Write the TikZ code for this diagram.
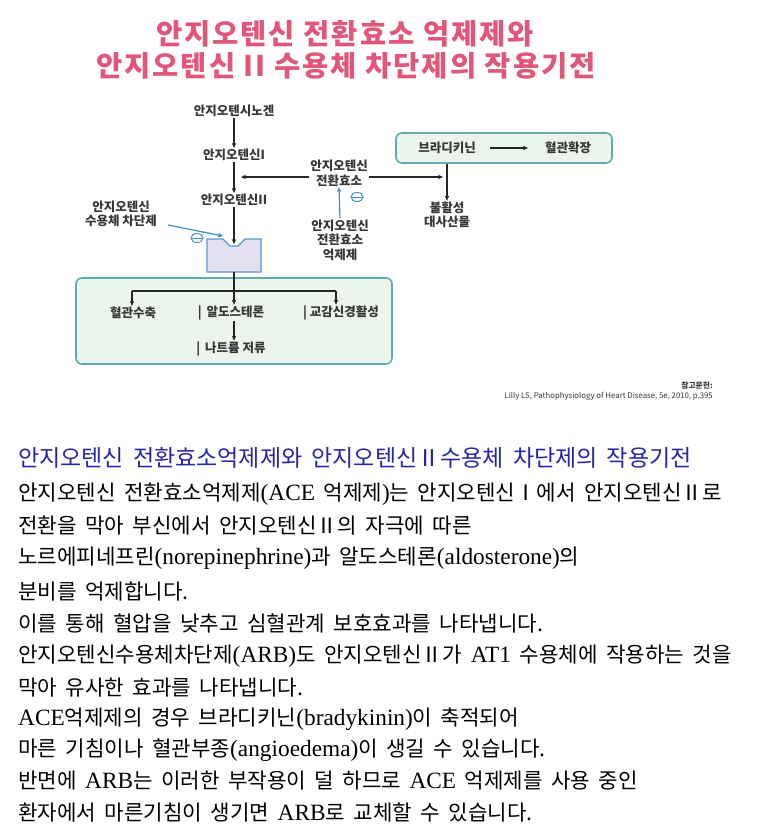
\documentclass[tikz,border=0pt]{standalone}
\usepackage{fontspec}
\newfontfamily\kr{Noto Sans CJK KR}
\newfontfamily\lt[Scale=1.1]{Liberation Serif}
\usepackage{xcolor}
\usetikzlibrary{arrows.meta, shapes.geometric, positioning}

\definecolor{titlepink}{RGB}{226,86,122}
\definecolor{diagtext}{RGB}{55,55,55}
\definecolor{arrowblue}{RGB}{60,143,203}
\definecolor{boxgreen}{RGB}{236,245,236}
\definecolor{boxedge}{RGB}{95,172,176}
\definecolor{receptfill}{RGB}{228,224,241}
\definecolor{receptedge}{RGB}{90,150,210}
\definecolor{headblue}{RGB}{38,38,168}

\begin{document}
\begin{tikzpicture}[x=1pt, y=-1pt,
    lbl/.style={font=\kr\bfseries\fontsize{12.5}{14.5}\selectfont, text=diagtext, align=center, inner sep=1pt},
    conn/.style={-{Stealth[length=5pt,width=4.5pt]}, line width=1.2pt, draw=black!85},
    bluconn/.style={-{Stealth[length=5pt,width=4.5pt]}, line width=1.2pt, draw=arrowblue},
    ominus/.style={ellipse, draw=arrowblue, line width=1pt, minimum width=12pt, minimum height=9pt, inner sep=0pt,
        path picture={\draw[arrowblue, line width=1pt] (path picture bounding box.west) -- (path picture bounding box.east);}},
    greenbox/.style={draw=boxedge, fill=boxgreen, line width=1.6pt, rounded corners=6pt},
    titleline/.style={font=\kr\bfseries\fontsize{28.5}{33}\selectfont\addfontfeature{LetterSpace=7}, text=titlepink},
    bodyline/.style={font=\kr\fontsize{21.2}{24}\selectfont, execute at begin node={\spaceskip=0.4em\relax}, anchor=west, inner sep=0pt},
]
    \useasboundingbox (0,0) rectangle (761,837);
    \fill[white] (0,0) rectangle (761,837);

    % Title
    \node[titleline] (title1) at (345,34) {안지오텐신 전환효소 억제제와};
    \node[titleline] (title2) at (346,66) {안지오텐신 II 수용체 차단제의 작용기전};

    % Boxes in the background
    \node[greenbox, minimum width=316pt, minimum height=86pt] (outbox) at (234,321) {};
    \node[greenbox, minimum width=216pt, minimum height=30pt] (bradybox) at (504,148) {};

    % Main cascade
    \node[lbl] (agt) at (234,111) {안지오텐시노겐};
    \node[lbl] (ang1) at (234,155) {안지오텐신I};
    \node[lbl] (ang2) at (234,200) {안지오텐신II};
    \node[lbl] (ace) at (339,173) {안지오텐신\\전환효소};
    \node[lbl] (acei) at (340,240) {안지오텐신\\전환효소\\억제제};
    \node[lbl] (arb) at (121,214) {안지오텐신\\수용체 차단제};
    \node[lbl] (brady) at (447,148) {브라디키닌};
    \node[lbl] (vasodil) at (568,148) {혈관확장};
    \node[lbl] (inact) at (447,215) {불활성\\대사산물};

    % Receptor with its notch
    \draw[fill=receptfill, draw=receptedge, line width=1.2pt]
        (207,239) -- (223,239) -- (230,246) -- (238,246) -- (245,239) -- (261,239)
        -- (261,272) -- (207,272) -- cycle;
    \coordinate (notch) at (234,244);
    \coordinate (rbot) at (234,272);

    % Effects
    \coordinate (bus) at (234,291);
    \coordinate (busL) at (132,291);
    \coordinate (busR) at (336,291);
    \node[lbl] (vasocon) at (133,313) {혈관수축};
    \node[lbl] (aldo) at (231,313) {| \,알도스테론};
    \node[lbl] (symp) at (341,313) {| 교감신경활성};
    \node[lbl] (natr) at (231,349) {| \,나트륨 저류};

    % Connectors
    \draw[conn] (agt) -- (ang1);
    \draw[conn] (ang1) -- (ang2);
    \draw[conn] (ang2) -- (notch);
    \coordinate (join) at (234,177);
    \coordinate (bkjoin) at (447,177);
    \draw[conn, shorten >=7pt] (ace.west |- join) -- (join);
    \draw[conn, shorten >=4pt] (ace.east |- bkjoin) -- (bkjoin);
    \draw[conn] (brady.south |- bradybox.south) -- (inact.north);
    \coordinate (bkA) at (490,148);
    \coordinate (bkB) at (528,148);
    \draw[conn] (bkA) -- (bkB);
    \draw[line width=1.2pt, draw=black!85] (rbot) -- (bus);
    \draw[line width=1.2pt, draw=black!85] (busL) -- (busR);
    \draw[conn] (busL) -- (busL |- vasocon.north);
    \draw[conn] (bus) -- (bus |- aldo.north);
    \draw[conn] (busR) -- (busR |- symp.north);
    \draw[conn] (aldo.south -| bus) -- (natr.north -| bus);

    % Inhibitors
    \draw[bluconn] (acei.north) -- (ace.south);
    \node[ominus] (minusace) at (357,197) {};
    \coordinate (arbtip) at (223,236);
    \draw[bluconn] (arb.east) ++(10,11) -- (arbtip);
    \node[ominus] (minusarb) at (197,238) {};

    % Source note
    \node[font=\kr\bfseries\fontsize{7.8}{9}\selectfont, text=diagtext, anchor=east, inner sep=0pt] (refhead) at (713,386) {참고문헌:};
    \node[font=\kr\fontsize{7.8}{9}\selectfont, text=diagtext, anchor=east, inner sep=0pt] (reftext) at (713,396) {Lilly LS, Pathophysiology of Heart Disease, 5e, 2010, p.395};

    % Text below the figure
    \node[bodyline, text=headblue, font=\kr\fontsize{23}{26}\selectfont] (heading) at (18,458) {안지오텐신 전환효소억제제와 안지오텐신Ⅱ수용체 차단제의 작용기전};
    \node[bodyline] (l1) at (18,494) {안지오텐신 전환효소억제제{\lt(ACE }억제제{\lt)}는 안지오텐신Ⅰ에서 안지오텐신Ⅱ로};
    \node[bodyline] (l2) at (18,526) {전환을 막아 부신에서 안지오텐신Ⅱ의 자극에 따른};
    \node[bodyline] (l3) at (18,558) {노르에피네프린{\lt(norepinephrine)}과 알도스테론{\lt(aldosterone)}의};
    \node[bodyline] (l4) at (18,591) {분비를 억제합니다.};
    \node[bodyline] (l5) at (18,623) {이를 통해 혈압을 낮추고 심혈관계 보호효과를 나타냅니다.};
    \node[bodyline] (l6) at (18,656) {안지오텐신수용체차단제{\lt(ARB)}도 안지오텐신Ⅱ가 {\lt AT1} 수용체에 작용하는 것을};
    \node[bodyline] (l7) at (18,688) {막아 유사한 효과를 나타냅니다.};
    \node[bodyline] (l8) at (18,719) {{\lt ACE}억제제의 경우 브라디키닌{\lt(bradykinin)}이 축적되어};
    \node[bodyline] (l9) at (18,750) {마른 기침이나 혈관부종{\lt(angioedema)}이 생길 수 있습니다.};
    \node[bodyline] (l10) at (18,781) {반면에 {\lt ARB}는 이러한 부작용이 덜 하므로 {\lt ACE} 억제제를 사용 중인};
    \node[bodyline] (l11) at (18,812) {환자에서 마른기침이 생기면 {\lt ARB}로 교체할 수 있습니다.};
\end{tikzpicture}
\end{document}
